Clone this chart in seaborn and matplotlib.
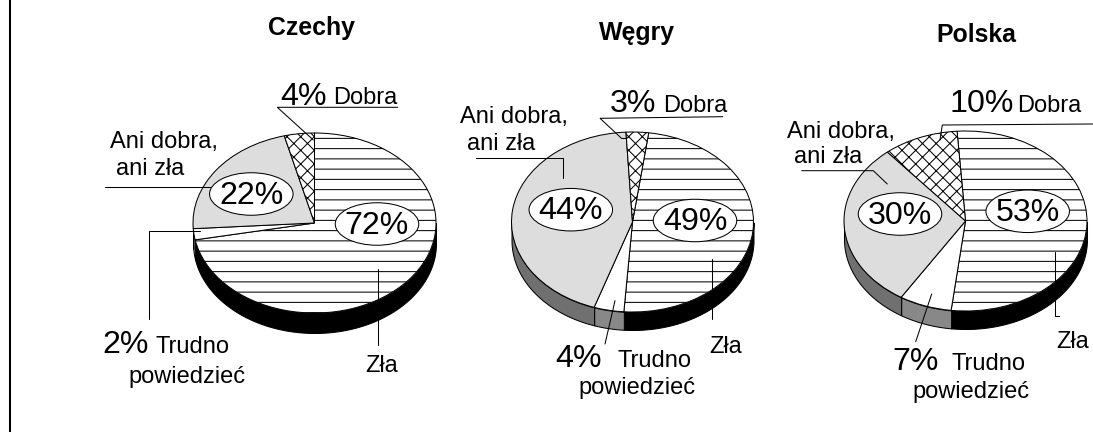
import numpy as np
import matplotlib
matplotlib.use("Agg")
import matplotlib.pyplot as plt
from matplotlib.patches import Ellipse
import seaborn as sns

# order is clockwise from the start of the "Zła" slice
answers = ["Zła", "Trudno powiedzieć", "Ani dobra, ani zła", "Dobra"]
czechy = [72, 2, 22, 4]
wegry = [49, 4, 44, 3]
polska = [53, 7, 30, 10]

W, H = 1093, 432
DPI = 123

sns.set_theme(style="white")
plt.rcParams["font.family"] = ["Liberation Sans", "DejaVu Sans"]
plt.rcParams["hatch.linewidth"] = 0.6
plt.rcParams["hatch.color"] = "black"

face_colors = ["white", "white", "#dddddd", "white"]
side_colors = ["black", "#888888", "#707070", "black"]
hatches = ["--", None, None, "xxx"]
LW = 0.6

fig = plt.figure(figsize=(W / DPI, H / DPI), dpi=DPI, facecolor="white")


def draw_pie(values, cx, cy, rx, ry, depth, start):
    # axes box covers the ellipse plus the side wall, scale is not equal
    ax = fig.add_axes([(cx - rx) / W, 1 - (cy + ry + depth) / H, 2 * rx / W, (2 * ry + depth) / H])
    ax.pie(values, startangle=start, counterclock=False, radius=1, colors=face_colors, hatch=hatches,
           wedgeprops={"edgecolor": "black", "linewidth": LW, "clip_on": False})
    ax.set_aspect("auto")
    ax.set_xlim(-1, 1)
    ax.set_ylim(-1 - depth / ry, 1)

    # side wall, only the front half shows
    edges = start - np.cumsum([0] + list(values)) * 3.6
    for i in range(len(values)):
        t = np.linspace(edges[i], edges[i + 1], 300)
        t = np.radians(t)
        t = t[np.sin(t) <= 0]
        if len(t) < 2:
            continue
        ax.fill_between(np.cos(t), np.sin(t), np.sin(t) - depth / ry, facecolor=side_colors[i],
                        edgecolor="black", linewidth=LW, clip_on=False, zorder=0.5)


draw_pie(czechy, 314.5, 223, 121.5, 90, 20, 90)
draw_pie(wegry, 632.5, 222, 121, 90, 18, 82.3)
draw_pie(polska, 965.5, 221, 121.5, 90, 18, 94)

# overlay in picture pixels for the labels and the leader lines
ov = fig.add_axes([0, 0, 1, 1], zorder=5)
ov.set_xlim(0, W)
ov.set_ylim(H, 0)
ov.axis("off")

ov.plot([10, 10], [0, H], color="black", lw=1.2, solid_capstyle="butt")

leaders = [
    [(397.7, 107.3), (277.3, 107.3), (313.3, 140)],
    [(105, 187), (215, 187)],
    [(149.3, 319.3), (149.3, 231), (200, 231)],
    [(377.7, 269), (377.7, 345)],
    [(722.7, 116.7), (600, 118.3), (621.7, 138.5), (625.7, 138.5)],
    [(476, 158.3), (562.7, 158.3), (562.7, 178.3)],
    [(615, 300.7), (605, 344)],
    [(711.7, 259), (711.7, 319.3)],
    [(1092.7, 124), (942.3, 125), (940, 140)],
    [(801.7, 170.7), (873.3, 170.7), (887.3, 184)],
    [(931.7, 294), (915.7, 341.7)],
    [(1055, 252.3), (1055, 315.7), (1059.3, 315.7)],
]
for pts in leaders:
    xs, ys = zip(*pts)
    ov.plot(xs, ys, color="black", lw=0.6, solid_joinstyle="miter")

TITLE = 14.6
BIG = 18.8
SMALL = 13.8

for txt, x, y in [("Czechy", 311.5, 35), ("Węgry", 637, 40), ("Polska", 976, 42)]:
    ov.text(x, y, txt, ha="center", va="baseline", fontsize=TITLE, fontweight="bold", color="black")

# percentages in ovals
ovals = [
    (czechy[2], 251.3, 194), (czechy[0], 377, 224),
    (wegry[2], 570.8, 209.7), (wegry[0], 695, 220.5),
    (polska[2], 900, 214), (polska[0], 1027.7, 211.3),
]
for val, x, y in ovals:
    ov.add_patch(Ellipse((x, y), 83.5, 42.5, facecolor="white", edgecolor="black", linewidth=LW, zorder=3))
    ov.text(x, y + 9.5, f"{val}%", ha="center", va="baseline", fontsize=BIG, color="black", zorder=4)

big_labels = [
    (f"{czechy[3]}%", 280, 105), (f"{czechy[1]}%", 102, 353),
    (f"{wegry[3]}%", 610, 112), (f"{wegry[1]}%", 555, 367),
    (f"{polska[3]}%", 950, 112), (f"{polska[1]}%", 892, 370),
]
for txt, x, y in big_labels:
    ov.text(x, y, txt, ha="left", va="baseline", fontsize=BIG, color="black")

small_labels = [
    ("Dobra", 333, 104), ("Ani dobra,", 110, 147.7), ("ani zła", 116, 175),
    ("Trudno", 155, 353), ("powiedzieć", 128, 383), ("Zła", 365, 371.7),
    ("Dobra", 663, 112), ("Ani dobra,", 460, 123), ("ani zła", 467, 150),
    ("Trudno", 618, 367), ("powiedzieć", 578, 394), ("Zła", 709, 353),
    ("Dobra", 1017, 112), ("Ani dobra,", 787, 138), ("ani zła", 794, 163),
    ("Trudno", 952, 370), ("powiedzieć", 912, 398), ("Zła", 1056, 348),
]
for txt, x, y in small_labels:
    ov.text(x, y, txt, ha="left", va="baseline", fontsize=SMALL, color="black")

fig.savefig("out.png", dpi=DPI)
